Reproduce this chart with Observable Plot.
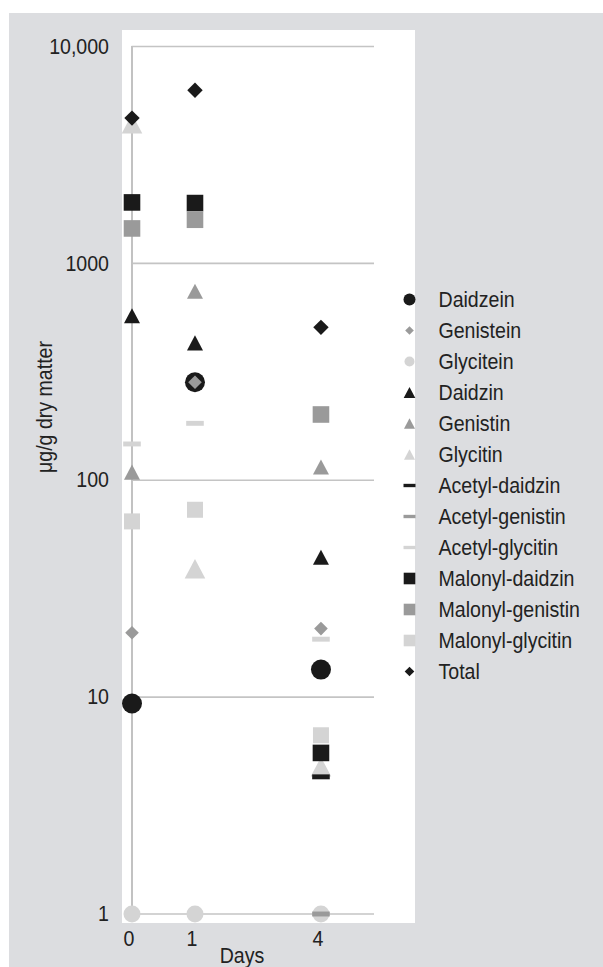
<!DOCTYPE html>
<html>
<head>
<meta charset="utf-8">
<script src="https://cdn.jsdelivr.net/npm/d3@7"></script>
<script src="https://cdn.jsdelivr.net/npm/@observablehq/plot@0.6"></script>
<style>
  body { margin: 0; background: #fff; }
  #wrap { position: relative; width: 603px; height: 967px; overflow: hidden; background: #fff;
          font-family: "Liberation Sans", Arial, sans-serif; color: #222; }
  #bg { position: absolute; left: 9px; top: 13px; right: 0; bottom: 0; background: #dcdde0; }
  #white { position: absolute; left: 122px; top: 30px; width: 293px; height: 893px; background: #fff; }
  #chart, #legend { position: absolute; left: 0; top: 0; }
  #legend { left: 395px; top: 270px; }
  .title { position: absolute; font-size: 22.5px; line-height: 1; white-space: nowrap; }
  #xtitle { left: 242px; top: 945px; transform: translateX(-50%) scaleX(0.87); }
  #ytitle { left: 45px; top: 407px; transform: translate(-50%, -50%) rotate(-90deg) scaleX(0.87); }
</style>
</head>
<body>
<div id="wrap">
  <div id="bg"></div>
  <div id="white"></div>
  <div id="chart"></div>
  <div id="legend"></div>
  <div class="title" id="xtitle">Days</div>
  <div class="title" id="ytitle">μg/g dry matter</div>
</div>
<script>
// ---- data ----
const dayLabels = ["0", "1", "4"];
const dayPos = [0, 1, 3]; // category slot of each sampling day on the axis
const yTicks = [1, 10, 100, 1000, 10000];
const yTickLabels = ["1", "10", "100", "1000", "10,000"];

const seriesNames = ["Daidzein", "Genistein", "Glycitein", "Daidzin", "Genistin", "Glycitin",
  "Acetyl-daidzin", "Acetyl-genistin", "Acetyl-glycitin",
  "Malonyl-daidzin", "Malonyl-genistin", "Malonyl-glycitin", "Total"];

const daidzein        = [9.35, 283, 13.4];
const genistein       = [19.8, 283, 20.7];
const glycitein       = [1, 1, 1];
const daidzin         = [574, 430, 44.2];
const genistin        = [109, 743, 115];
const glycitin        = [4400, 39.1, 4.77];
const acetylDaidzin   = [null, null, 4.29];
const acetylGenistin  = [null, null, 1];
const acetylGlycitin  = [147, 183, 18.5];
const malonylDaidzin  = [1910, 1897, 5.53];
const malonylGenistin = [1449, 1589, 201];
const malonylGlycitin = [64.6, 73.1, 6.67];
const total           = [4677, 6285, 507];

const seriesValues = [daidzein, genistein, glycitein, daidzin, genistin, glycitin,
  acetylDaidzin, acetylGenistin, acetylGlycitin,
  malonylDaidzin, malonylGenistin, malonylGlycitin, total];

// ---- styles ----
const half = (s) => Math.sqrt(s / Math.PI);
const shapes = {
  circle:   { draw(c, s) { const r = half(s); c.moveTo(r, 0); c.arc(0, 0, r, 0, 2 * Math.PI); } },
  square:   { draw(c, s) { const r = half(s); c.rect(-r, -r, 2 * r, 2 * r); } },
  triangle: { draw(c, s) { const r = half(s), h = r * 0.94; c.moveTo(0, -h); c.lineTo(r, h); c.lineTo(-r, h); c.closePath(); } },
  diamond:  { draw(c, s) { const r = half(s); c.moveTo(0, -r); c.lineTo(r, 0); c.lineTo(0, r); c.lineTo(-r, 0); c.closePath(); } },
  dash:     { draw(c, s) { const r = half(s), t = r * 0.28; c.rect(-r, -t, 2 * r, 2 * t); } }
};
const BLACK = "#1a1a1a", GRAY = "#9a9a9a", LIGHT = "#d4d4d4";
const seriesStyle = {
  "Daidzein":         { shape: "circle",   fill: BLACK, r: 10,   lr: 6 },
  "Genistein":        { shape: "diamond",  fill: GRAY,  r: 6.8,  lr: 4.3 },
  "Glycitein":        { shape: "circle",   fill: LIGHT, r: 8.5,  lr: 5 },
  "Daidzin":          { shape: "triangle", fill: BLACK, r: 8,    lr: 5.8 },
  "Genistin":         { shape: "triangle", fill: GRAY,  r: 8,    lr: 5.5 },
  "Glycitin":         { shape: "triangle", fill: LIGHT, r: 10.3, lr: 5.5 },
  "Acetyl-daidzin":   { shape: "dash",     fill: BLACK, r: 8.8,  lr: 6 },
  "Acetyl-genistin":  { shape: "dash",     fill: GRAY,  r: 8.8,  lr: 6 },
  "Acetyl-glycitin":  { shape: "dash",     fill: LIGHT, r: 8.8,  lr: 6 },
  "Malonyl-daidzin":  { shape: "square",   fill: BLACK, r: 8.3,  lr: 5.8 },
  "Malonyl-genistin": { shape: "square",   fill: GRAY,  r: 8.3,  lr: 5.8 },
  "Malonyl-glycitin": { shape: "square",   fill: LIGHT, r: 8,    lr: 5.8 },
  "Total":            { shape: "diamond",  fill: BLACK, r: 7.7,  lr: 4.8 }
};

const FONT = '"Liberation Sans", Arial, sans-serif';
const NARROW = 0.87; // horizontal squeeze to mimic a narrow face

// long table
const rows = [];
seriesNames.forEach((name, i) => {
  seriesValues[i].forEach((v, j) => {
    if (v != null) rows.push({ series: name, day: dayLabels[j], pos: dayPos[j], value: v });
  });
});

const dotMarks = seriesNames.map(name => {
  const st = seriesStyle[name];
  return Plot.dot(rows.filter(d => d.series === name), {
    x: "pos", y: "value", r: st.r, fill: st.fill, symbol: shapes[st.shape]
  });
});

const chart = Plot.plot({
  width: 603,
  height: 967,
  marginLeft: 131.5,
  marginRight: 229,
  marginTop: 46,
  marginBottom: 53.5,
  style: { background: "transparent", fontFamily: FONT, fontSize: "22.5px", color: "#222", overflow: "visible" },
  x: { type: "linear", domain: [0, 3.85] },
  y: { type: "log", domain: [1, 10000] },
  marks: [
    Plot.gridY({ ticks: yTicks, stroke: "#c4c4c4", strokeOpacity: 1, strokeWidth: 1.6 }),
    Plot.ruleX([0], { stroke: "#c2c2c2", strokeWidth: 2 }),
    Plot.axisY({ ticks: yTicks, tickFormat: v => yTickLabels[yTicks.indexOf(v)], tickSize: 0, tickPadding: 23, label: null, fontSize: 22.5, fill: "#222" }),
    Plot.axisX({ ticks: dayPos, tickFormat: v => dayLabels[dayPos.indexOf(v)], tickSize: 0, tickPadding: 16, label: null, fontSize: 22.5, dx: -3, fill: "#222" }),
    ...dotMarks
  ]
});

// legend
const legendMarks = seriesNames.map(name => {
  const st = seriesStyle[name];
  return Plot.dot([name], { x: () => 0, y: d => d, r: st.lr, fill: st.fill, symbol: shapes[st.shape] });
});
const legend = Plot.plot({
  width: 208,
  height: 430,
  marginLeft: 14,
  marginRight: 0,
  marginTop: 25,
  marginBottom: 25,
  style: { background: "transparent", fontFamily: FONT, overflow: "visible" },
  x: { domain: [0, 1], axis: null },
  y: { type: "point", domain: seriesNames, padding: 0, axis: null },
  marks: [
    ...legendMarks,
    Plot.text(seriesNames, { x: () => 0, y: d => d, text: d => d, dx: 29, textAnchor: "start", fontSize: 22.5, fill: "#222" })
  ]
});

function narrowText(svg) {
  svg.querySelectorAll("text").forEach(t => {
    const tr = t.getAttribute("transform") || "";
    t.setAttribute("transform", (tr + ` scale(${NARROW},1)`).trim());
  });
}
narrowText(chart);
narrowText(legend);
document.getElementById("chart").appendChild(chart);
document.getElementById("legend").appendChild(legend);
</script>
</body>
</html>
